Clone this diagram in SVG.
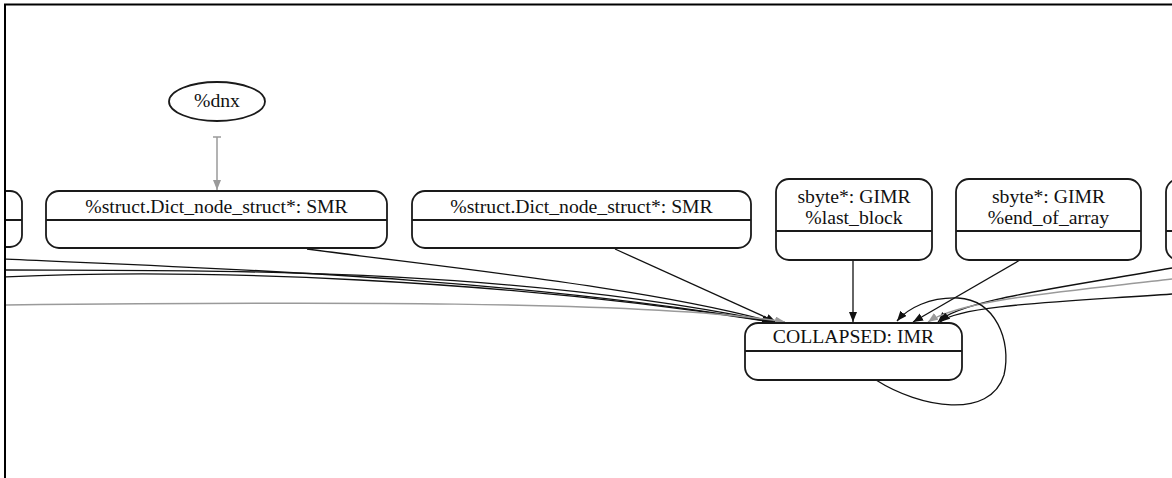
<svg xmlns="http://www.w3.org/2000/svg" width="1172" height="478" viewBox="0 0 1172 478">
  <style>
    .node { fill: #ffffff; stroke: #1a1a1a; stroke-width: 1.8; }
    .div { stroke: #1a1a1a; stroke-width: 1.8; fill: none; }
    .lbl { font-family: "Liberation Serif", "Times New Roman", serif; font-size: 19.7px; fill: #111111; text-anchor: middle; }
    .edge { fill: none; stroke: #111111; stroke-width: 1.3; }
    .edge-gray { fill: none; stroke: #9a9a9a; stroke-width: 1.5; }
    .frame { stroke: #000000; stroke-width: 2; fill: none; }
  </style>
  <defs>
    <marker id="arrow" markerUnits="userSpaceOnUse" markerWidth="12" markerHeight="10" refX="10" refY="4" orient="auto">
      <path d="M0,0 L10,4 L0,8 Z" fill="#111111"/>
    </marker>
    <marker id="arrow-gray" markerUnits="userSpaceOnUse" markerWidth="12" markerHeight="10" refX="10" refY="4" orient="auto">
      <path d="M0,0 L10,4 L0,8 Z" fill="#9a9a9a"/>
    </marker>
    <marker id="tee-gray" markerUnits="userSpaceOnUse" markerWidth="4" markerHeight="10" refX="1" refY="5" orient="auto">
      <path d="M1,1 L1,9" stroke="#9a9a9a" stroke-width="1.5"/>
    </marker>
    <clipPath id="area">
      <rect x="6" y="5" width="1166" height="473"/>
    </clipPath>
  </defs>

  <rect x="0" y="0" width="1172" height="478" fill="#ffffff"/>

  <g clip-path="url(#area)">
    <!-- connectors -->
    <g id="edges">
      <path class="edge-gray" d="M217,137 L217,190" marker-start="url(#tee-gray)" marker-end="url(#arrow-gray)"/>
      <path class="edge" d="M4,259 C200,268 500,276 772,322" marker-end="url(#arrow)"/>
      <path class="edge" d="M4,270 C200,271 500,266 772,322" marker-end="url(#arrow)"/>
      <path class="edge" d="M4,277 C200,268 500,279 772,322" marker-end="url(#arrow)"/>
      <path class="edge" d="M307,249 C450,268 650,288 773,322" marker-end="url(#arrow)"/>
      <path class="edge" d="M615,249 L776,322" marker-end="url(#arrow)"/>
      <path class="edge-gray" d="M4,305 C300,302 650,300 785,322" marker-end="url(#arrow-gray)"/>
      <path class="edge" d="M853,260 L853,322" marker-end="url(#arrow)"/>
      <path class="edge" d="M1020,260 L913,322" marker-end="url(#arrow)"/>
      <path class="edge" d="M1172,268 C1060,288 960,300 938,322" marker-end="url(#arrow)"/>
      <path class="edge-gray" d="M1172,279 C1060,292 960,300 928,322" marker-end="url(#arrow-gray)"/>
      <path class="edge" d="M1172,294 C1060,302 960,305 940,322" marker-end="url(#arrow)"/>
      <path class="edge" d="M876,380 C920,408 990,420 1004,375 C1012,340 995,300 958,298 C930,297 908,308 897,321" marker-end="url(#arrow)"/>
    </g>

    <g id="node-dnx">
      <ellipse class="node" cx="217" cy="101.5" rx="48" ry="19.5"/>
      <text class="lbl" x="217" y="107">%dnx</text>
    </g>

    <g id="node-left-partial">
      <rect class="node" x="-300" y="191" width="322" height="56" rx="12"/>
      <line class="div" x1="-300" y1="220" x2="22" y2="220"/>
    </g>

    <g id="node-dict-1">
      <rect class="node" x="46" y="191" width="341" height="57" rx="13"/>
      <line class="div" x1="46" y1="220" x2="387" y2="220"/>
      <text class="lbl" x="216.5" y="213">%struct.Dict_node_struct*: SMR</text>
    </g>

    <g id="node-dict-2">
      <rect class="node" x="412" y="191" width="339" height="57" rx="13"/>
      <line class="div" x1="412" y1="220" x2="751" y2="220"/>
      <text class="lbl" x="581.5" y="213">%struct.Dict_node_struct*: SMR</text>
    </g>

    <g id="node-last-block">
      <rect class="node" x="776" y="179" width="156" height="81" rx="13"/>
      <line class="div" x1="776" y1="231" x2="932" y2="231"/>
      <text class="lbl" x="854" y="203">sbyte*: GIMR</text>
      <text class="lbl" x="854" y="224">%last_block</text>
    </g>

    <g id="node-end-of-array">
      <rect class="node" x="956" y="179" width="185" height="81" rx="13"/>
      <line class="div" x1="956" y1="231" x2="1141" y2="231"/>
      <text class="lbl" x="1048.5" y="203">sbyte*: GIMR</text>
      <text class="lbl" x="1048.5" y="224">%end_of_array</text>
    </g>

    <g id="node-right-partial">
      <rect class="node" x="1166" y="179" width="200" height="81" rx="13"/>
      <line class="div" x1="1166" y1="231" x2="1366" y2="231"/>
    </g>

    <g id="node-collapsed">
      <rect class="node" x="745" y="323" width="217" height="57" rx="13"/>
      <line class="div" x1="745" y1="351" x2="962" y2="351"/>
      <text class="lbl" x="853.5" y="343">COLLAPSED: IMR</text>
    </g>
  </g>

  <!-- outer border -->
  <path class="frame" d="M5,478 L5,4.5 L1172,4.5"/>
</svg>
